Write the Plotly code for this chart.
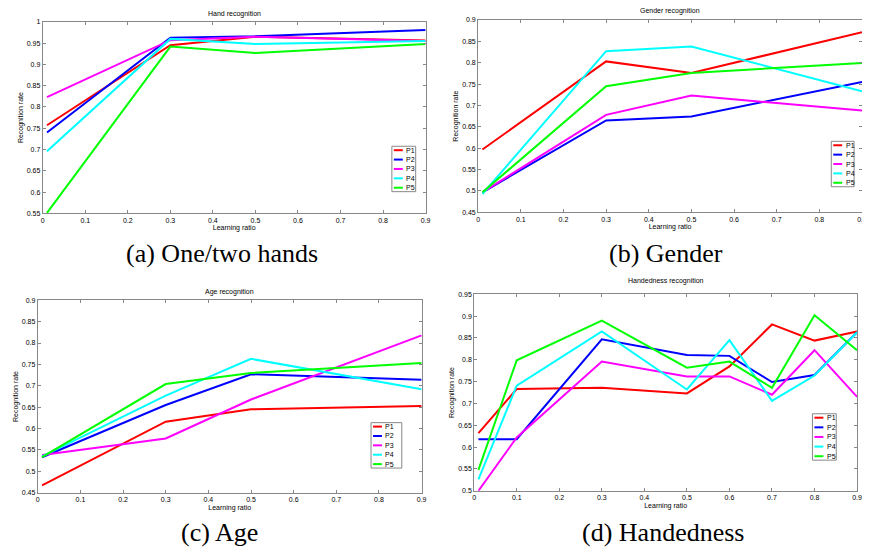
import plotly.graph_objects as go

W, H = 870, 552
OFF = 8  # default page margin of the browser body

series_names = ["P1", "P2", "P3", "P4", "P5"]
series_colors = ["#FF0000", "#0000FF", "#FF00FF", "#00FFFF", "#00FF00"]

# (a) Hand recognition
hand_x = [0.01, 0.3, 0.5, 0.9]
hand_p1 = [0.757, 0.945, 0.965, 0.956]
hand_p2 = [0.740, 0.963, 0.966, 0.981]
hand_p3 = [0.823, 0.957, 0.965, 0.955]
hand_p4 = [0.696, 0.960, 0.948, 0.955]
hand_p5 = [0.551, 0.942, 0.927, 0.948]

# (b) Gender recognition
gender_x = [0.01, 0.3, 0.5, 0.9]
gender_p1 = [0.597, 0.803, 0.776, 0.871]
gender_p2 = [0.497, 0.665, 0.674, 0.755]
gender_p3 = [0.497, 0.678, 0.723, 0.688]
gender_p4 = [0.493, 0.827, 0.838, 0.733]
gender_p5 = [0.497, 0.745, 0.776, 0.799]

# (c) Age recognition
age_x = [0.01, 0.3, 0.5, 0.9]
age_p1 = [0.467, 0.616, 0.645, 0.653]
age_p2 = [0.533, 0.655, 0.727, 0.714]
age_p3 = [0.538, 0.577, 0.668, 0.818]
age_p4 = [0.535, 0.677, 0.763, 0.692]
age_p5 = [0.533, 0.704, 0.730, 0.753]

# (d) Handedness recognition
hd_x = [0.01, 0.1, 0.3, 0.5, 0.6, 0.7, 0.8, 0.9]
hd_p1 = [0.632, 0.733, 0.736, 0.723, 0.785, 0.881, 0.844, 0.865]
hd_p2 = [0.618, 0.618, 0.847, 0.811, 0.809, 0.749, 0.765, 0.863]
hd_p3 = [0.500, 0.622, 0.796, 0.762, 0.762, 0.720, 0.822, 0.715]
hd_p4 = [0.526, 0.741, 0.865, 0.732, 0.845, 0.706, 0.764, 0.863]
hd_p5 = [0.548, 0.799, 0.890, 0.782, 0.796, 0.736, 0.902, 0.822]

x_ticks = [0, 0.1, 0.2, 0.3, 0.4, 0.5, 0.6, 0.7, 0.8, 0.9]
x_ticktext = ["0", "0.1", "0.2", "0.3", "0.4", "0.5", "0.6", "0.7", "0.8", "0.9"]
y_ticks_a = [0.55, 0.6, 0.65, 0.7, 0.75, 0.8, 0.85, 0.9, 0.95, 1.0]
y_ticktext_a = ["0.55", "0.6", "0.65", "0.7", "0.75", "0.8", "0.85", "0.9", "0.95", "1"]
y_ticks_bc = [0.45, 0.5, 0.55, 0.6, 0.65, 0.7, 0.75, 0.8, 0.85, 0.9]
y_ticktext_bc = ["0.45", "0.5", "0.55", "0.6", "0.65", "0.7", "0.75", "0.8", "0.85", "0.9"]
y_ticks_d = [0.5, 0.55, 0.6, 0.65, 0.7, 0.75, 0.8, 0.85, 0.9, 0.95]
y_ticktext_d = ["0.5", "0.55", "0.6", "0.65", "0.7", "0.75", "0.8", "0.85", "0.9", "0.95"]

titles = ["Hand recognition", "Gender recognition", "Age recognition", "Handedness recognition"]
captions = ["(a) One/two hands", "(b) Gender", "(c) Age", "(d) Handedness"]
x_label = "Learning ratio"
y_label = "Recognition rate"

FW, FH = W - OFF, H - OFF


def px(x):
    return (x - OFF) / FW


def py(y):
    return 1 - (y - OFF) / FH


panels = [
    dict(x=hand_x, ys=[hand_p1, hand_p2, hand_p3, hand_p4, hand_p5],
         box=(41, 18, 427, 212), yr=[0.55, 1.0], yt=y_ticks_a, ytt=y_ticktext_a,
         title_y=10, leg=(393, 144, 417, 190), cap=(222, 253)),
    dict(x=gender_x, ys=[gender_p1, gender_p2, gender_p3, gender_p4, gender_p5],
         box=(480, 16, 867, 211), yr=[0.45, 0.9], yt=y_ticks_bc, ytt=y_ticktext_bc,
         title_y=7, leg=(836, 139, 859, 185), cap=(669, 253)),
    dict(x=age_x, ys=[age_p1, age_p2, age_p3, age_p4, age_p5],
         box=(36, 300, 423, 495), yr=[0.45, 0.9], yt=y_ticks_bc, ytt=y_ticktext_bc,
         title_y=292, leg=(372, 424, 403, 470), cap=(219, 535)),
    dict(x=hd_x, ys=[hd_p1, hd_p2, hd_p3, hd_p4, hd_p5],
         box=(476, 294, 862, 493), yr=[0.5, 0.95], yt=y_ticks_d, ytt=y_ticktext_d,
         title_y=281, leg=(817, 415, 841, 462), cap=(666, 535)),
]

fig = go.Figure()
shapes = []
annotations = []
tick_font = dict(family="Liberation Sans, Arial", size=7, color="black")

for k, p in enumerate(panels):
    n = "" if k == 0 else str(k + 1)
    x0, y0, x1, y1 = p["box"]
    for i, (name, col) in enumerate(zip(series_names, series_colors)):
        fig.add_trace(go.Scatter(x=p["x"], y=p["ys"][i], mode="lines", name=name,
                                 line=dict(color=col, width=2), showlegend=False,
                                 xaxis="x" + n, yaxis="y" + n))
    fig.layout["xaxis" + n] = dict(
        domain=[px(x0), px(x1)], range=[0, 0.9], anchor="y" + n,
        tickvals=x_ticks, ticktext=x_ticktext, ticks="inside", ticklen=3,
        tickcolor="#888", showline=True, linecolor="#888", linewidth=1, mirror="ticks",
        showgrid=False, zeroline=False, tickfont=tick_font,
        title=dict(text=x_label, font=tick_font, standoff=2))
    fig.layout["yaxis" + n] = dict(
        domain=[py(y1), py(y0)], range=p["yr"], anchor="x" + n,
        tickvals=p["yt"], ticktext=p["ytt"], ticks="inside", ticklen=3,
        tickcolor="#888", showline=True, linecolor="#888", linewidth=1, mirror="ticks",
        showgrid=False, zeroline=False, tickfont=tick_font,
        title=dict(text=y_label, font=tick_font, standoff=2))
    annotations.append(dict(x=px((x0 + x1) / 2), y=py(p["title_y"]), xref="paper", yref="paper",
                            text=titles[k], showarrow=False, font=tick_font,
                            xanchor="center", yanchor="middle"))
    cx, cy = p["cap"]
    annotations.append(dict(x=px(cx), y=py(cy), xref="paper", yref="paper",
                            text=captions[k], showarrow=False,
                            font=dict(family="Liberation Serif, serif", size=26, color="black"),
                            xanchor="center", yanchor="middle"))
    # legend box
    lx0, ly0, lx1, ly1 = p["leg"]
    shapes.append(dict(type="rect", xref="paper", yref="paper",
                       x0=px(lx0), x1=px(lx1), y0=py(ly1), y1=py(ly0),
                       line=dict(color="#888", width=1), fillcolor="white", layer="above"))
    step = (ly1 - ly0 - 8) / 4
    for i, (name, col) in enumerate(zip(series_names, series_colors)):
        yy = ly0 + 4 + i * step
        shapes.append(dict(type="line", xref="paper", yref="paper",
                           x0=px(lx0 + 2), x1=px(lx0 + 11), y0=py(yy), y1=py(yy),
                           line=dict(color=col, width=2), layer="above"))
        annotations.append(dict(x=px(lx0 + 12.5), y=py(yy), xref="paper", yref="paper",
                                text=name, showarrow=False, font=tick_font,
                                xanchor="left", yanchor="middle"))

fig.update_layout(width=FW, height=FH, margin=dict(l=0, r=0, t=0, b=0),
                  paper_bgcolor="white", plot_bgcolor="white",
                  shapes=shapes, annotations=annotations, showlegend=False)

fig.write_html("out.html")
